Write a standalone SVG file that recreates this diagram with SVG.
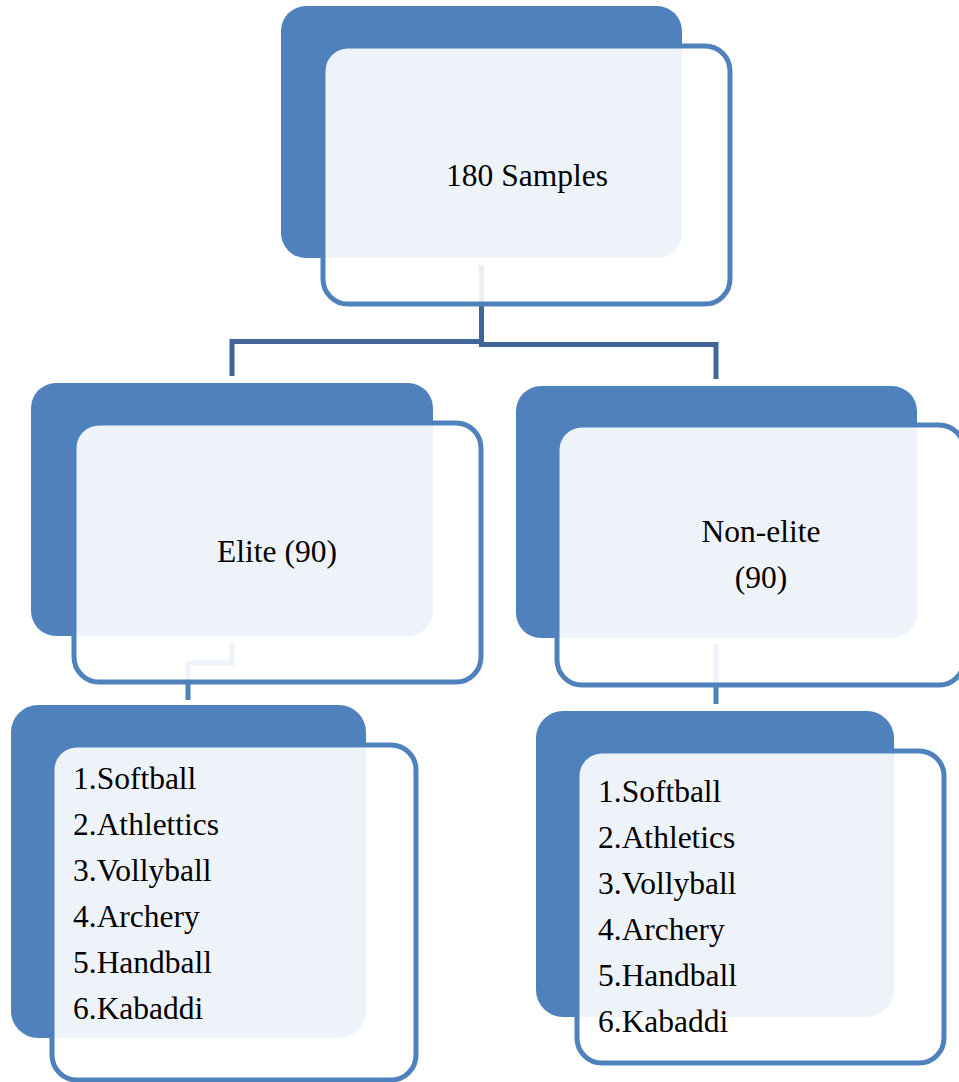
<svg xmlns="http://www.w3.org/2000/svg" width="959" height="1082" viewBox="0 0 959 1082">
<style>
.dark{fill:#4F81BD;}
.box{fill:#FFFFFF;fill-opacity:0.9;stroke:#4F81BD;stroke-width:5;}
.lbl{font-family:"Liberation Serif","Times New Roman",serif;font-size:31.5px;fill:#000000;}
.mid{text-anchor:middle;}
.c1{fill:none;stroke:#41679A;stroke-width:5;}
.c2{fill:none;stroke:#4F81BD;stroke-width:5;}
</style>
<rect width="959" height="1082" fill="#FFFFFF"/>
<g id="connectors">
<path class="c1" d="M481.5,265 V341.5 H232 V376"/>
<path class="c1" d="M481.5,341.5 V344.5 H716 V379"/>
<path class="c2" d="M232,642 V663 H188 V700"/>
<path class="c2" d="M716,644 V704"/>
</g>
<g id="node-samples">
<rect class="dark" x="281" y="6" width="401" height="252" rx="25" ry="25"/>
<rect class="box" x="323" y="46" width="407" height="258" rx="25" ry="25"/>
<text class="lbl mid" x="527" y="186">180 Samples</text>
</g>
<g id="node-elite">
<rect class="dark" x="31" y="383" width="402" height="253" rx="25" ry="25"/>
<rect class="box" x="74" y="423" width="407" height="259" rx="25" ry="25"/>
<text class="lbl mid" x="277" y="562">Elite (90)</text>
</g>
<g id="node-nonelite">
<rect class="dark" x="516" y="386" width="401" height="252" rx="25" ry="25"/>
<rect class="box" x="557" y="425" width="407" height="260" rx="25" ry="25"/>
<text class="lbl mid" x="761" y="542">Non-elite</text>
<text class="lbl mid" x="761" y="588">(90)</text>
</g>
<g id="node-elite-list">
<rect class="dark" x="11" y="705" width="355" height="333" rx="27" ry="27"/>
<rect class="box" x="52" y="745" width="364" height="335" rx="25" ry="25"/>
<text class="lbl" x="73" y="789">1.Softball</text>
<text class="lbl" x="73" y="835">2.Athlettics</text>
<text class="lbl" x="73" y="881">3.Vollyball</text>
<text class="lbl" x="73" y="927">4.Archery</text>
<text class="lbl" x="73" y="973">5.Handball</text>
<text class="lbl" x="73" y="1019">6.Kabaddi</text>
</g>
<g id="node-nonelite-list">
<rect class="dark" x="536" y="711" width="358" height="306" rx="27" ry="27"/>
<rect class="box" x="577" y="751" width="367" height="312" rx="25" ry="25"/>
<text class="lbl" x="598" y="802">1.Softball</text>
<text class="lbl" x="598" y="848">2.Athletics</text>
<text class="lbl" x="598" y="894">3.Vollyball</text>
<text class="lbl" x="598" y="940">4.Archery</text>
<text class="lbl" x="598" y="986">5.Handball</text>
<text class="lbl" x="598" y="1032">6.Kabaddi</text>
</g>
</svg>
